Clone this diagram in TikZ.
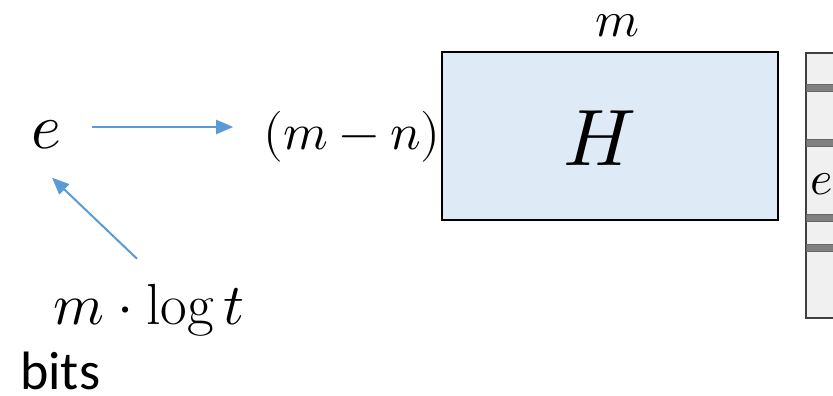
\documentclass[tikz,border=0pt]{standalone}
\usepackage{amsmath}
\usepackage{unicode-math}
\setmathfont{Latin Modern Math}
\newfontfamily\carlito{Carlito}
\usetikzlibrary{arrows.meta,calc}

\definecolor{arrblue}{HTML}{5B9BD5}
\definecolor{hfill}{HTML}{DEEAF6}
\definecolor{stripfill}{HTML}{F0F0F0}
\definecolor{bargray}{HTML}{7F7F7F}

\tikzset{
  arr/.style={-{Triangle[length=17pt,width=14pt]},arrblue,line width=2pt},
  lbl/.style={inner sep=0pt,text=black}
}

\begin{document}
\begin{tikzpicture}[x=1pt,y=-1pt]
\useasboundingbox (0,0) rectangle (833,396);
\fill[white] (0,0) rectangle (833,396);
\node[lbl,font=\fontsize{64}{70}\selectfont] (e) at (46,135) {$e$};
\node[draw,line width=2pt,fill=hfill,minimum width=336pt,minimum height=168pt] (H) at (610,136) {};
\node[lbl,font=\fontsize{80}{84}\selectfont] (Hl) at (600,138) {$H$};
\node[lbl,anchor=east,font=\fontsize{51}{56}\selectfont] (mn) at (H.west|-0,137) {$(m-n)$};
\node[lbl,font=\fontsize{50}{56}\selectfont] (m) at (617,26) {$m$};
\node[lbl,font=\fontsize{58}{64}\selectfont] (mlog) at (149,310) {$m\cdot\log t$};
\node[lbl,anchor=base west,font=\fontsize{54}{60}\carlito] (bits) at (20,389) {bits};
\draw[arr] ($(e.east)+(31,-8)$) -- ($(mn.west)+(-30,-10)$);
\draw[arr] ($(mlog.north)+(-12,-25)$) -- ($(e.south)+(6,28)$);
% e vector, cut by the page edge
\begin{scope}
\clip (0,0) rectangle (833,396);
\draw[fill=stripfill,draw=black!75,line width=1.5pt] (806,53) rectangle (850,318);
\foreach \y in {87.5,142.5,218,248}
  \draw[fill=bargray,draw=black!60,line width=0.8pt] (806,\y-3.5) rectangle (850,\y+3.5);
\node[lbl,anchor=west,font=\fontsize{48}{52}\selectfont] (ev) at (810,184) {$e$};
\end{scope}
\end{tikzpicture}
\end{document}
